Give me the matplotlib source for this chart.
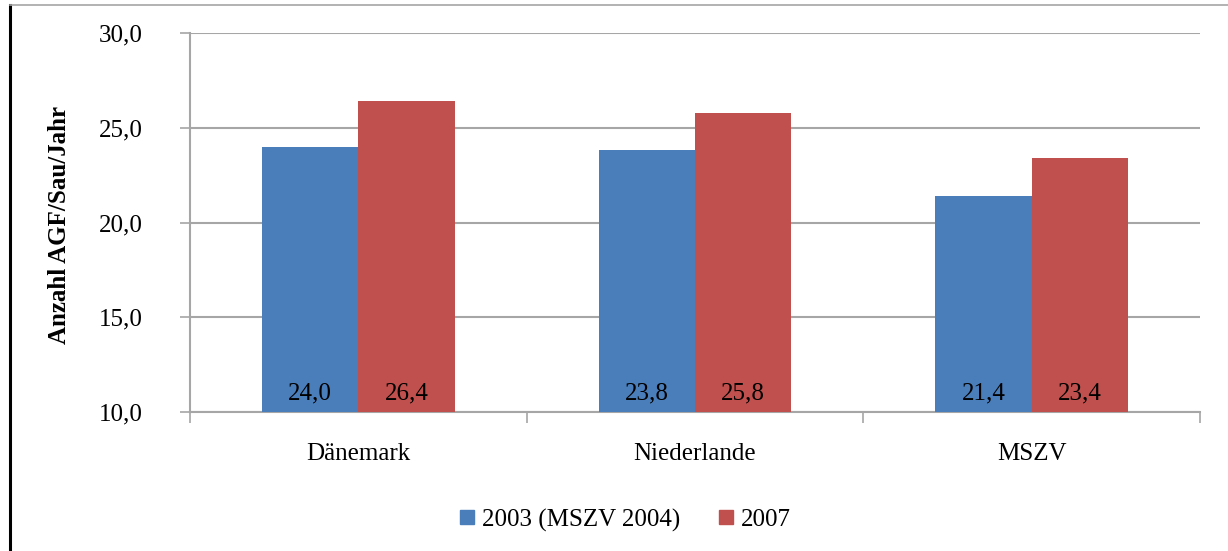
import matplotlib
matplotlib.use("Agg")
import matplotlib.pyplot as plt
from matplotlib.lines import Line2D
import numpy as np

plt.rcParams['font.family'] = ['Liberation Serif', 'DejaVu Serif']

categories = ["Dänemark", "Niederlande", "MSZV"]
series_names = ["2003 (MSZV 2004)", "2007"]
values_2003 = [24.0, 23.8, 21.4]
values_2007 = [26.4, 25.8, 23.4]
colors = ["#4a7ebb", "#c0504d"]

W, H = 1228, 551
fig = plt.figure(figsize=(W / 100, H / 100), dpi=100)

# plot area in pixels
left, top, right, bottom = 190, 33, 1200, 412
ax = fig.add_axes([left / W, 1 - bottom / H, (right - left) / W, (bottom - top) / H])

x = np.arange(len(categories))
bw = 1 / 3.5
ax.bar(x - bw / 2, values_2003, bw, color=colors[0], zorder=3, label=series_names[0])
ax.bar(x + bw / 2, values_2007, bw, color=colors[1], zorder=3, label=series_names[1])

fs = 18
for xi, v in zip(x - bw / 2, values_2003):
    ax.text(xi, 11.0, f"{v:.1f}".replace(".", ","), ha="center", va="center", fontsize=fs, zorder=4)
for xi, v in zip(x + bw / 2, values_2007):
    ax.text(xi, 11.0, f"{v:.1f}".replace(".", ","), ha="center", va="center", fontsize=fs, zorder=4)

ax.set_ylim(10, 30)
ax.set_xlim(-0.5, 2.5)
yt = [10, 15, 20, 25, 30]
ax.set_yticks(yt)
ax.set_yticklabels([f"{t:.1f}".replace(".", ",") for t in yt], fontsize=fs)
ax.yaxis.grid(True, color="#a6a6a6", linewidth=1.5, zorder=0)
ax.tick_params(axis="y", direction="out", length=7, width=1.2, color="#a6a6a6", pad=27)

ax.set_xticks(x)
ax.set_xticklabels(categories, fontsize=fs)
ax.set_xticks([-0.5, 0.5, 1.5, 2.5], minor=True)
ax.tick_params(axis="x", which="major", length=0, pad=22)
ax.tick_params(axis="x", which="minor", direction="out", length=8, width=1.2, color="#a6a6a6")

for s in ["top", "right"]:
    ax.spines[s].set_visible(False)
for s in ["left", "bottom"]:
    ax.spines[s].set_color("#a6a6a6")
    ax.spines[s].set_linewidth(1.5)

fig.text(60 / W, 1 - 225 / H, "Anzahl AGF/Sau/Jahr", rotation=90, ha="center", va="center",
         fontsize=18, fontweight="bold")

handles = [Line2D([], [], marker="s", linestyle="none", markersize=10, color=c) for c in colors]
fig.legend(handles, series_names, loc="center", bbox_to_anchor=(624 / W, 1 - 520 / H), ncol=2,
           frameon=False, fontsize=fs, handletextpad=0.2, columnspacing=1.4, handlelength=0.8)

# frame lines of the chart area
fig.add_artist(Line2D([10 / W, 10 / W], [0, 1 - 5 / H], color="black", linewidth=2.2))
fig.add_artist(Line2D([10 / W, 1], [1 - 5 / H, 1 - 5 / H], color="#a6a6a6", linewidth=1.2))

fig.savefig("out.png", dpi=100, facecolor="white")
